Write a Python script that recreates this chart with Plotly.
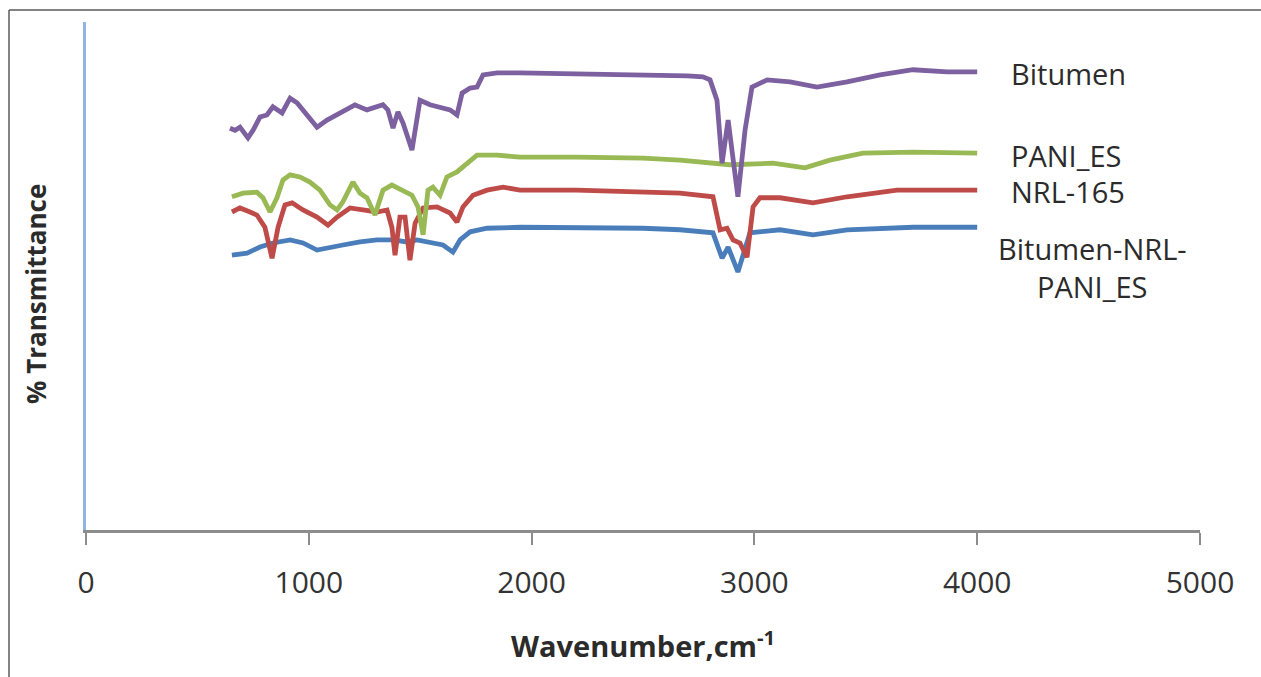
import plotly.graph_objects as go

# FTIR spectra, wavenumber (cm-1) vs % transmittance (offset traces)
bitumen_wn = [646, 669, 691, 727, 750, 781, 812, 839, 880, 916, 947, 983, 1037, 1082,
              1140, 1207, 1261, 1333, 1355, 1378, 1400, 1423, 1463, 1499, 1544, 1589,
              1634, 1665, 1688, 1724, 1755, 1782, 1845, 1948, 2100, 2300, 2500, 2700,
              2769, 2801, 2832, 2855, 2882, 2926, 2958, 2989, 3057, 3160, 3281, 3416,
              3564, 3712, 3865, 4000]
bitumen_t = [79.1, 78.7, 79.3, 77.2, 78.7, 81.3, 81.7, 83.3, 82.1, 85.0, 84.1, 82.3, 79.3, 80.7,
             82.1, 83.7, 82.7, 83.7, 82.7, 79.1, 82.3, 80.1, 74.8, 84.6, 83.7, 83.3,
             82.7, 81.7, 86.0, 87.0, 87.2, 89.6, 90.0, 90.0, 89.9, 89.8, 89.6, 89.4,
             89.2, 88.6, 84.6, 72.2, 80.7, 65.6, 78.7, 87.2, 88.6, 88.2, 87.2, 88.2,
             89.6, 90.6, 90.2, 90.2]

pani_wn = [655, 705, 767, 794, 826, 857, 884, 916, 960, 1005, 1050, 1095, 1127, 1153,
           1198, 1230, 1261, 1297, 1333, 1373, 1418, 1463, 1490, 1513, 1535, 1557, 1589,
           1620, 1665, 1710, 1755, 1845, 1948, 2200, 2500, 2666, 2890, 3083, 3227, 3339,
           3487, 3712, 4000]
pani_t = [65.6, 66.3, 66.5, 65.4, 62.6, 65.4, 68.9, 69.9, 69.5, 68.5, 66.9, 64.0, 63.0, 64.6,
          68.5, 66.3, 65.4, 62.0, 66.9, 67.9, 66.9, 65.9, 63.6, 58.1, 66.9, 67.5, 65.9,
          69.5, 70.5, 72.2, 73.8, 73.8, 73.4, 73.4, 73.2, 72.8, 71.9, 72.2, 71.3, 72.8,
          74.2, 74.4, 74.2]

nrl_wn = [655, 691, 736, 767, 803, 835, 862, 893, 925, 974, 1037, 1086, 1127, 1185, 1243,
          1306, 1351, 1373, 1387, 1409, 1432, 1454, 1477, 1513, 1575, 1634, 1665, 1692,
          1737, 1800, 1872, 1948, 2200, 2500, 2666, 2814, 2846, 2877, 2904, 2935, 2967,
          2994, 3025, 3115, 3263, 3416, 3640, 4000]
nrl_t = [62.6, 63.4, 62.6, 62.0, 59.6, 53.5, 59.6, 64.0, 64.4, 63.0, 61.6, 60.0, 61.6, 63.4, 63.0,
         62.6, 63.0, 59.6, 54.1, 61.6, 61.6, 53.1, 60.4, 63.4, 63.6, 62.4, 60.6, 63.6,
         65.9, 66.9, 67.5, 66.9, 66.9, 66.5, 66.3, 65.6, 59.1, 59.4, 57.1, 56.5, 53.7,
         63.6, 65.4, 65.4, 64.4, 65.6, 66.9, 66.9]

blend_wn = [655, 723, 781, 839, 916, 974, 1037, 1095, 1153, 1230, 1306, 1378, 1441, 1486,
            1557, 1602, 1647, 1679, 1724, 1800, 1948, 2200, 2500, 2666, 2814, 2855, 2882,
            2926, 2980, 3115, 3263, 3416, 3712, 4000]
blend_t = [54.1, 54.5, 55.7, 56.5, 57.1, 56.5, 55.1, 55.7, 56.1, 56.7, 57.1, 57.1, 56.7, 57.1,
           56.5, 56.1, 54.7, 57.1, 58.7, 59.4, 59.6, 59.6, 59.4, 59.1, 58.5, 53.5, 55.7,
           50.8, 58.5, 59.1, 58.1, 59.1, 59.6, 59.6]

x_ticks = [0, 1000, 2000, 3000, 4000, 5000]

# drawn bottom to top
series = [
    ("Bitumen-NRL-PANI_ES", blend_wn, blend_t, "#4A7EBB"),
    ("NRL-165", nrl_wn, nrl_t, "#BE4B48"),
    ("PANI_ES", pani_wn, pani_t, "#98B954"),
    ("Bitumen", bitumen_wn, bitumen_t, "#7D60A0"),
]

W, H = 1261, 677
L, R, T, B = 86, 61, 22, 147


def px(xp):
    return (xp - L) / (W - L - R)


def py(yp):
    return (H - B - yp) / (H - B - T)


fig = go.Figure()
for name, wn, t, color in series:
    fig.add_trace(go.Scatter(x=wn, y=t, mode="lines", name=name,
                             line=dict(color=color, width=4.8, shape="linear"),
                             showlegend=False))

label_font = dict(family="Open Sans", size=29, color="#2b2b2b")
labels = [
    ("Bitumen", 1009, 73, "left"),
    ("PANI_ES", 1009, 155, "left"),
    ("NRL-165", 1009, 192, "left"),
    ("Bitumen-NRL-", 1092, 248, "center"),
    ("PANI_ES", 1092, 286, "center"),
]
annotations = [dict(text=txt, x=px(xp), y=py(yp), xref="paper", yref="paper",
                    xanchor=anc, yanchor="middle", showarrow=False, font=label_font)
               for txt, xp, yp, anc in labels]

annotations.append(dict(text="<b>Wavenumber,cm<sup>-1</sup></b>", x=px(643), y=py(644),
                        xref="paper", yref="paper", xanchor="center", yanchor="middle",
                        showarrow=False,
                        font=dict(family="Open Sans", size=29, color="#2b2b2b")))
annotations.append(dict(text="<b>% Transmittance</b>", x=px(36), y=py(294),
                        xref="paper", yref="paper", xanchor="center", yanchor="middle",
                        textangle=-90, showarrow=False,
                        font=dict(family="Open Sans", size=26, color="#2b2b2b")))

# outer frame: only the top and left edges fall inside the page
frame_line = dict(color="#5a5a5a", width=1.5)
fig.update_layout(
    width=W, height=H,
    margin=dict(l=L, r=R, t=T, b=B),
    paper_bgcolor="white", plot_bgcolor="white",
    annotations=annotations,
    shapes=[
        dict(type="line", xref="paper", yref="paper", x0=px(9), x1=px(W + 5),
             y0=py(10), y1=py(10), line=frame_line, layer="below"),
        dict(type="line", xref="paper", yref="paper", x0=px(9), x1=px(9),
             y0=py(10), y1=py(H + 5), line=frame_line, layer="below"),
    ],
)

fig.update_xaxes(range=[0, 5000], tickvals=x_ticks, ticktext=[str(v) for v in x_ticks],
                 showgrid=False, zeroline=False, showline=True, linecolor="#8c8c8c",
                 linewidth=2.5, ticks="outside", ticklen=12, tickwidth=1.5,
                 tickcolor="#8c8c8c", ticklabelstandoff=12,
                 tickfont=dict(family="Open Sans", size=30, color="#333333"))
fig.update_yaxes(range=[0, 100], showgrid=False, zeroline=False, showticklabels=False,
                 showline=True, linecolor="#8EB4E3", linewidth=2.5, ticks="")

fig.write_html("out.html")
